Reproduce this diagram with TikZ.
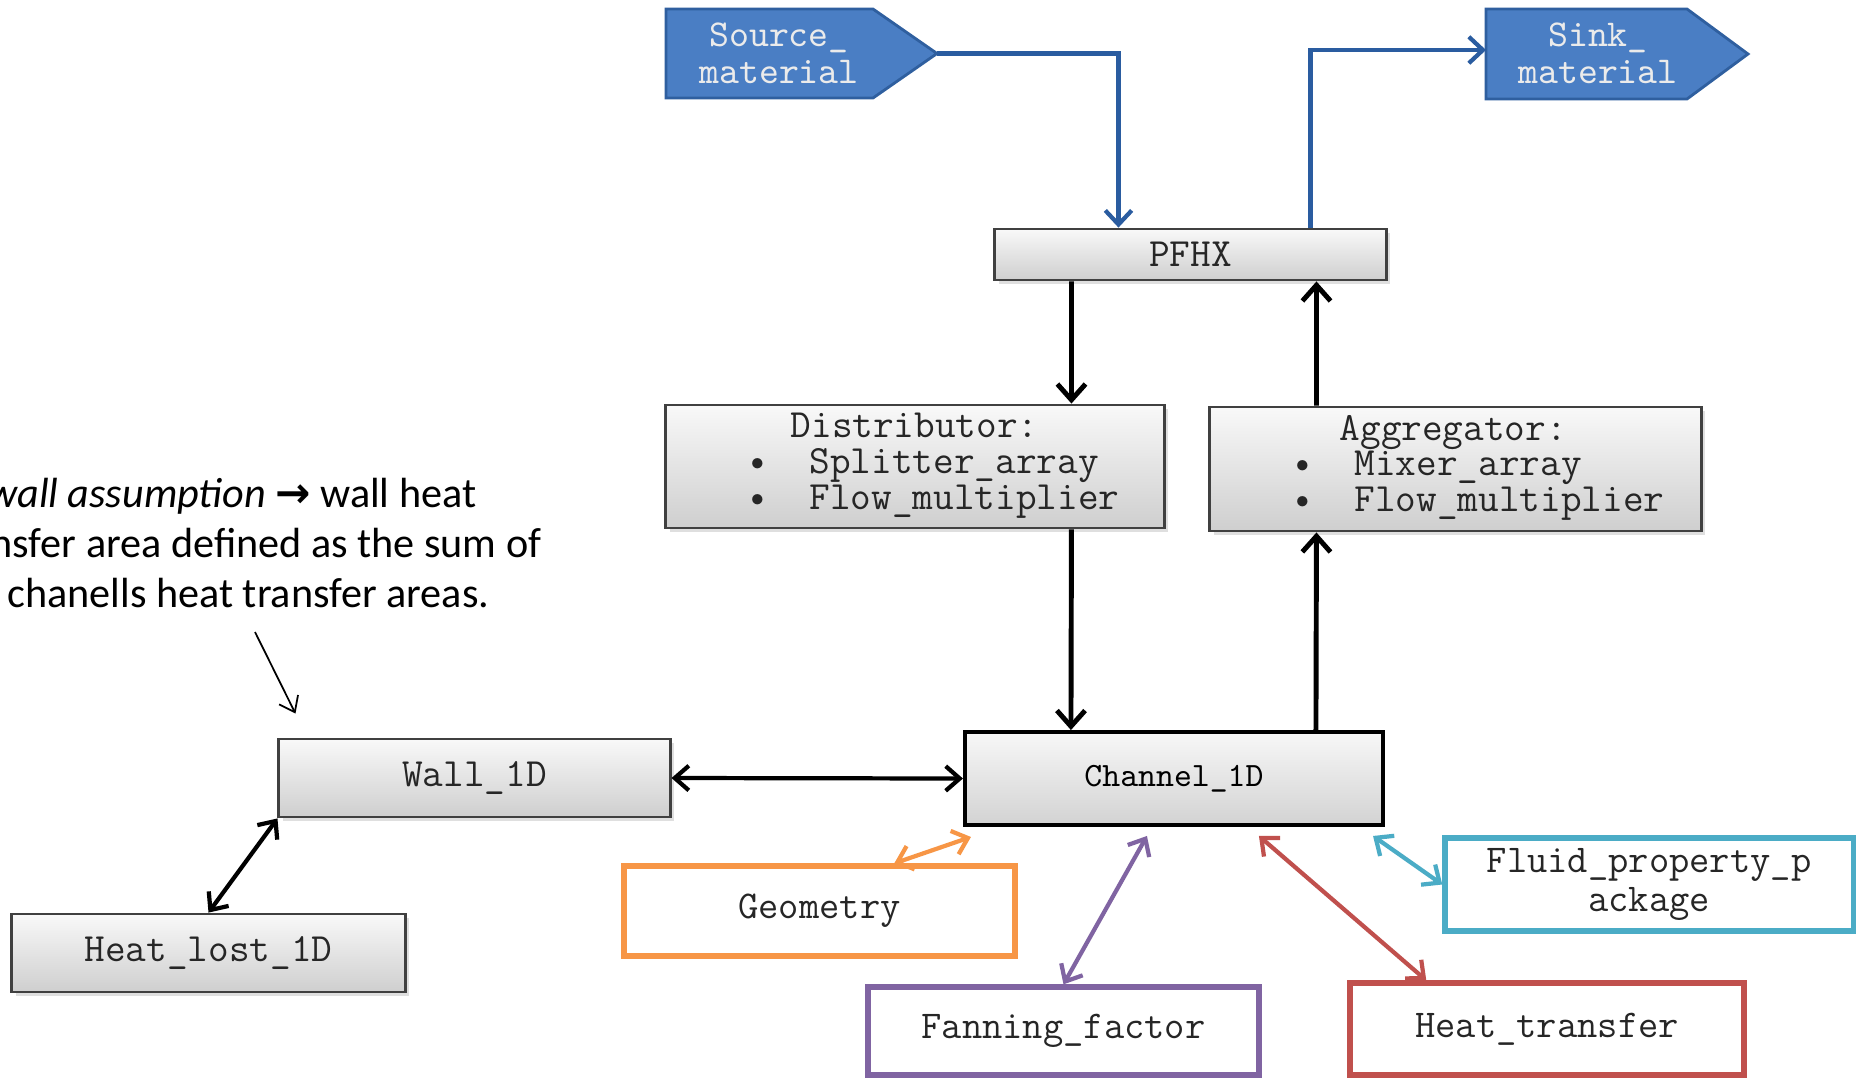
\documentclass[tikz,border=0pt]{standalone}
\usepackage{fontspec}
\setmainfont{Carlito}
\newfontfamily\arrowf{DejaVu Sans}
\usetikzlibrary{arrows.meta,shadows,calc}
\definecolor{srcblue}{HTML}{4A7EC4}
\definecolor{srcedge}{HTML}{2F5F9F}
\definecolor{lineblue}{HTML}{2A5CA0}
\definecolor{oorange}{HTML}{F79646}
\definecolor{opurple}{HTML}{8064A2}
\definecolor{ored}{HTML}{C0504D}
\definecolor{ocyan}{HTML}{4BACC6}
\newcommand{\monof}{\ttfamily}
\begin{document}
\begin{tikzpicture}[x=0.01cm,y=-0.01cm,
  graybox/.style={draw=black!75, line width=0.8pt, top color=gray!5, bottom color=gray!38,
    inner sep=0pt, font=\monof\fontsize{11.4}{12}\selectfont, text=black!85,
    drop shadow={opacity=0.25,shadow xshift=1.2pt,shadow yshift=-1.2pt}},
  chanbox/.style={draw=black, line width=1.1pt, top color=gray!6, bottom color=gray!35,
    inner sep=0pt, font=\monof\fontsize{9.7}{11}\selectfont, text=black},
  colbox/.style={draw=#1, line width=1.5pt, fill=white, inner sep=0pt,
    font=\monof\fontsize{11.2}{11}\selectfont, text=black!85, align=center},
  txtlbl/.style={inner sep=0pt, anchor=base west, font=\monof\fontsize{11.4}{12}\selectfont, text=black!85},
  srctxt/.style={inner sep=0pt, align=center, font=\monof\fontsize{10.8}{10.6}\selectfont, text=white!92!black},
  flow/.style={line width=1.4pt, -{Straight Barb[length=4.5pt,width=8pt]}},
  bflow/.style={line width=1.2pt, draw=lineblue, -{Straight Barb[length=4pt,width=7.5pt]}},
  both/.style={line width=1.2pt, {Straight Barb[length=4pt,width=7pt]}-{Straight Barb[length=4pt,width=7pt]}},
  note/.style={inner sep=0pt, anchor=base east, font=\fontsize{12}{14}\selectfont, text=black}
]
\clip (0,0) rectangle (1857,1078);
\fill[white] (0,0) rectangle (1857,1078);

% source / sink
\filldraw[fill=srcblue, draw=srcedge, line width=0.8pt]
  (666,9) -- (873,9) -- (937,53.5) -- (873,98) -- (666,98) -- cycle;
\node[srctxt] (src) at (779,53) {Source\_\\material};
\coordinate (srctip) at (937,53.5);
\filldraw[fill=srcblue, draw=srcedge, line width=0.8pt]
  (1486,9) -- (1687,9) -- (1748,54) -- (1687,99) -- (1486,99) -- cycle;
\node[srctxt] (snk) at (1598,53) {Sink\_\\material};
\coordinate (snkin) at (1486,50);

% main boxes
\node[graybox, minimum width=3.91cm, minimum height=0.51cm] (pfhx) at (1190.5,254.5) {PFHX};
\node[graybox, minimum width=4.98cm, minimum height=1.23cm] (dist) at (915,466.5) {};
\node[txtlbl] (distT) at (790,437) {Distributor:};
\node[txtlbl] (distA) at (747,473) {\textbullet\ \ Splitter\_array};
\node[txtlbl] (distB) at (747,509) {\textbullet\ \ Flow\_multiplier};
\node[graybox, minimum width=4.91cm, minimum height=1.24cm] (aggr) at (1455.5,469) {};
\node[txtlbl] (aggT) at (1339,440) {Aggregator:};
\node[txtlbl] (aggA) at (1292,475) {\textbullet\ \ Mixer\_array};
\node[txtlbl] (aggB) at (1292,511) {\textbullet\ \ Flow\_multiplier};
\node[chanbox, minimum width=4.18cm, minimum height=0.93cm] (chan) at (1174,778.5) {Channel\_1D};
\node[graybox, minimum width=3.91cm, minimum height=0.78cm] (wall) at (474.5,778) {Wall\_1D};
\node[graybox, minimum width=3.93cm, minimum height=0.78cm] (hl) at (208.5,953) {Heat\_lost\_1D};

% coloured boxes
\node[colbox=oorange, minimum width=3.91cm, minimum height=0.90cm] (geo) at (819.5,911) {Geometry};
\node[colbox=opurple, minimum width=3.91cm, minimum height=0.88cm] (fan) at (1063.5,1031) {Fanning\_factor};
\node[colbox=ored, minimum width=3.94cm, minimum height=0.92cm] (ht) at (1547,1029) {Heat\_transfer};
\node[colbox=ocyan, minimum width=4.08cm, minimum height=0.93cm] (fl) at (1649,884.5) {Fluid\_property\_p\\ackage};

% note
\node[note] (n1) at (477,507) {\textit{wall assumption} {\arrowf\bfseries →} wall heat};
\node[note] (n2) at (542,557) {transfer area defined as the sum of};
\node[note] (n3) at (490,607) {chanells heat transfer areas.};
\coordinate (noteS) at (255,632);

% blue connectors
\draw[bflow] (srctip) -| ($(pfhx.north west)+(125,0)$);
\draw[bflow] ($(pfhx.north west)+(317,0)$) |- (snkin);

% black connectors
\draw[flow] ($(pfhx.south west)+(78,0)$) -- ($(dist.north west)+(407,0)$);
\draw[flow] ($(dist.south west)+(407,0)$) -- ($(chan.north west)+(108,0)$);
\draw[flow] ($(chan.north west)+(353,0)$) -- ($(aggr.south west)+(108,0)$);
\draw[flow] ($(aggr.north west)+(108,0)$) -- ($(pfhx.south west)+(323,0)$);
\draw[both] (wall.east) -- (chan.west);
\draw[both] (hl.north) -- (wall.south west);

% coloured connectors
\draw[both, draw=oorange] ($(geo.north west)+(273,0)$) -- ($(chan.south west)+(8,10)$);
\draw[both, draw=opurple] (fan.north) -- ($(chan.south west)+(184,9)$);
\draw[both, draw=ored] ($(ht.north west)+(79,0)$) -- ($(chan.south west)+(296,9)$);
\draw[both, draw=ocyan] (fl.west) -- ($(chan.south east)+(-12,9)$);

% note arrow
\draw[line width=0.5pt, -{Straight Barb[length=4pt,width=6pt]}] (noteS) -- ($(wall.north west)+(18,-24)$);
\end{tikzpicture}
\end{document}
